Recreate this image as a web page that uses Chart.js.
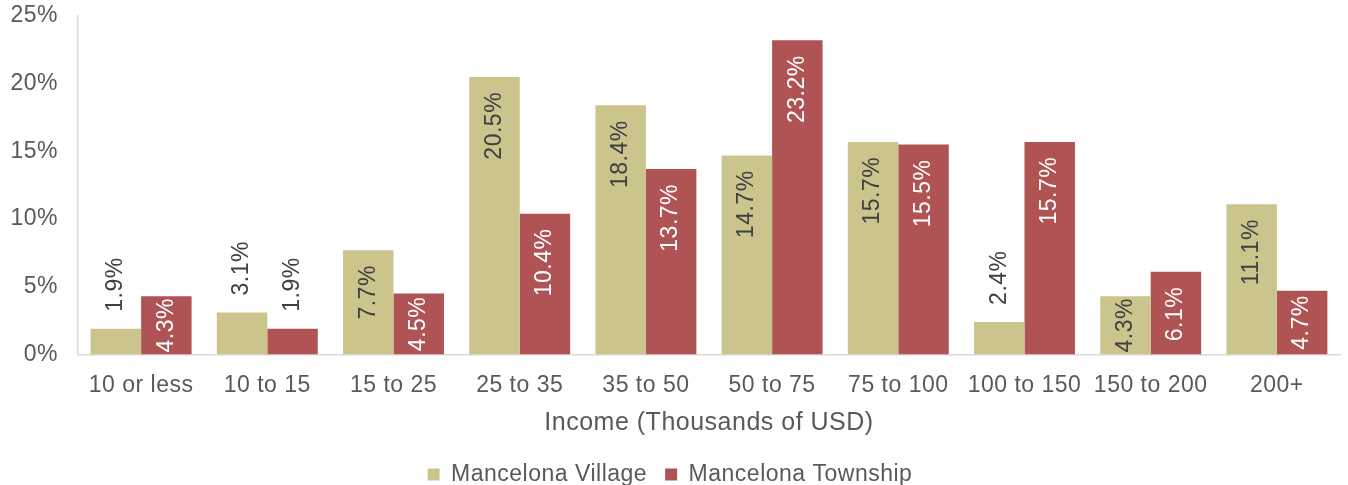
<!DOCTYPE html>
<html>
<head>
<meta charset="utf-8">
<script src="https://cdn.jsdelivr.net/npm/chart.js@4.4.1/dist/chart.umd.min.js"></script>
<style>
	html, body { margin: 0; padding: 0; background: #ffffff; overflow: hidden; }
	#wrap { width: 1348px; height: 485px; position: relative; }
</style>
</head>
<body>
<div id="wrap"><canvas id="canvas01"></canvas></div>
<script>
var categories = ['10 or less', '10 to 15', '15 to 25', '25 to 35', '35 to 50', '50 to 75', '75 to 100', '100 to 150', '150 to 200', '200+'];
var villageValues = [1.9, 3.1, 7.7, 20.5, 18.4, 14.7, 15.7, 2.4, 4.3, 11.1];
var townshipValues = [4.3, 1.9, 4.5, 10.4, 13.7, 23.2, 15.5, 15.7, 6.1, 4.7];
var seriesNames = ['Mancelona Village', 'Mancelona Township'];
var yTicks = [0, 5, 10, 15, 20, 25];

var FONT = "'Liberation Sans', Arial, sans-serif";
var GREY = '#595959';
var DARK = '#404040';
var SPACING = '0.5px';

//excel-like spacing of the text
var spacingPlugin = {
	id: 'spacing',
	beforeUpdate: function(chart) { chart.ctx.letterSpacing = SPACING; },
	beforeDraw: function(chart) { chart.ctx.letterSpacing = SPACING; }
};

//rotated value labels: inside end, centered when short, above the bar when tiny
var labelPlugin = {
	id: 'barLabels',
	afterDatasetsDraw: function(chart) {
		var ctx = chart.ctx;
		ctx.save();
		ctx.letterSpacing = SPACING;
		ctx.font = '23px ' + FONT;
		ctx.textBaseline = 'middle';
		chart.data.datasets.forEach(function(ds, di) {
			var meta = chart.getDatasetMeta(di);
			meta.data.forEach(function(bar, i) {
				var text = ds.data[i].toFixed(1) + '%';
				var len = ctx.measureText(text).width;
				var h = bar.base - bar.y;
				var pos, color;
				if (len + 24 <= h) {
					pos = bar.y + 15 + len; //bottom of text
					color = di === 0 ? DARK : '#ffffff';
				} else if (h >= len - 4) {
					pos = bar.base - (h - len) / 2;
					color = di === 0 ? DARK : '#ffffff';
				} else {
					pos = bar.y - 17;
					color = DARK;
				}
				ctx.save();
				ctx.translate(bar.x, pos);
				ctx.rotate(-Math.PI / 2);
				ctx.fillStyle = color;
				ctx.textAlign = 'left';
				ctx.fillText(text, 0, 0);
				ctx.restore();
			});
		});
		ctx.restore();
	}
};

function mainFunc() {
	var ctx = document.getElementById('canvas01');
	var chart = new Chart(ctx, {
		type: 'bar',
		data: {
			labels: categories,
			datasets: [
				{
					label: seriesNames[0],
					data: villageValues,
					backgroundColor: '#cbc58d',
					borderWidth: 0
				},
				{
					label: seriesNames[1],
					data: townshipValues,
					backgroundColor: '#b05355',
					borderWidth: 0
				}
			]
		},
		options: {
			responsive: true,
			maintainAspectRatio: false,
			animation: false,
			layout: { padding: { top: 16, right: 8, left: 0, bottom: -11 } },
			datasets: { bar: { categoryPercentage: 0.8, barPercentage: 1.0 } },
			plugins: {
				legend: {
					position: 'bottom',
					labels: {
						boxWidth: 12,
						boxHeight: 12,
						padding: 18,
						color: GREY,
						font: { family: FONT, size: 23 }
					}
				},
				tooltip: { enabled: false }
			},
			scales: {
				x: {
					grid: { display: false },
					border: { color: '#d9d9d9', width: 1.5 },
					ticks: { color: GREY, padding: 9, maxRotation: 0, autoSkip: false, font: { family: FONT, size: 23 } },
					title: {
						display: true,
						text: 'Income (Thousands of USD)',
						color: GREY,
						padding: { top: 0, bottom: 7 },
						font: { family: FONT, size: 25 }
					}
				},
				y: {
					min: 0,
					max: 25,
					grid: { display: false },
					border: { color: '#d9d9d9', width: 1.5 },
					afterBuildTicks: function(axis) {
						axis.ticks = yTicks.map(function(v) { return { value: v }; });
					},
					afterFit: function(axis) {
						axis.width = 78;
						axis.paddingTop = 0;
					},
					ticks: {
						color: GREY,
						padding: 12,
						font: { family: FONT, size: 23 },
						callback: function(v) { return v + '%'; }
					}
				}
			}
		},
		plugins: [spacingPlugin, labelPlugin]
	});
}

window.onload = mainFunc;
</script>
</body>
</html>
